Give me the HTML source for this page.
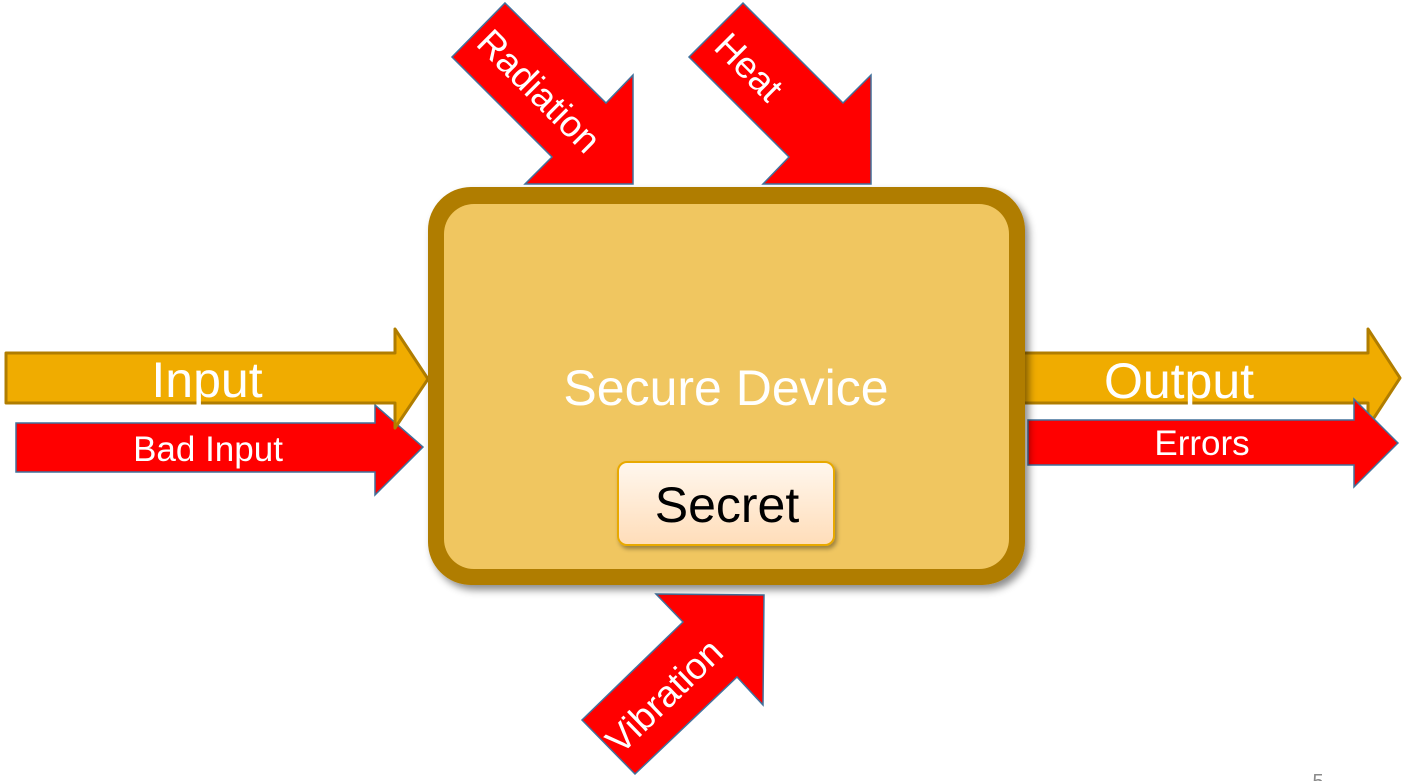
<!DOCTYPE html>
<html>
<head>
<meta charset="utf-8">
<style>
  html,body{margin:0;padding:0;background:#fff;}
  body{width:1406px;height:781px;overflow:hidden;}
  svg{display:block;}
  text{font-family:"Liberation Sans",Arial,sans-serif;}
</style>
</head>
<body>
<svg width="1406" height="781" viewBox="0 0 1406 781" xmlns="http://www.w3.org/2000/svg">
  <defs>
    <filter id="sh" x="-10%" y="-10%" width="125%" height="125%">
      <feDropShadow dx="4" dy="5" stdDeviation="4" flood-color="#000" flood-opacity="0.45"/>
    </filter>
    <filter id="sh2" x="-10%" y="-10%" width="125%" height="130%">
      <feDropShadow dx="2" dy="3" stdDeviation="2" flood-color="#000" flood-opacity="0.35"/>
    </filter>
    <linearGradient id="sg" x1="0" y1="0" x2="0" y2="1">
      <stop offset="0" stop-color="#FFF7EE"/>
      <stop offset="1" stop-color="#FFDDB9"/>
    </linearGradient>
  </defs>

  <!-- Radiation arrow -->
  <polygon points="505,3 606,103 633,75 633,184 525,184 552,157 452,57" fill="#FF0000" stroke="#41719C" stroke-width="1.5" stroke-linejoin="miter"/>
  <text x="0" y="0" font-size="37" fill="#fff" text-anchor="middle" transform="translate(530,100) rotate(45)">Radiation</text>

  <!-- Heat arrow -->
  <polygon points="743,3 843,103 871,75 871,184 763,184 789,157 689,57" fill="#FF0000" stroke="#41719C" stroke-width="1.5"/>
  <text x="0" y="0" font-size="37" fill="#fff" text-anchor="middle" transform="translate(740,76) rotate(45)">Heat</text>

  <!-- Output arrow (behind box) -->
  <polygon points="1000,353 1368,353 1368,329 1400,378 1368,427 1368,403 1000,403" fill="#F0AC00" stroke="#B07D00" stroke-width="3" stroke-linejoin="round"/>
  <text x="1179" y="398" font-size="50" fill="#fff" text-anchor="middle">Output</text>

  <!-- Errors arrow -->
  <polygon points="1028,420 1354,420 1354,399 1398,443 1354,487 1354,465 1028,465" fill="#FF0000" stroke="#41719C" stroke-width="1.5"/>
  <text x="1202" y="455" font-size="35" fill="#fff" text-anchor="middle">Errors</text>

  <!-- Bad Input arrow -->
  <polygon points="16,423 375,423 375,405 423,447 375,495 375,472 16,472" fill="#FF0000" stroke="#41719C" stroke-width="1.5"/>
  <text x="208" y="461" font-size="35" fill="#fff" text-anchor="middle">Bad Input</text>

  <!-- Input arrow -->
  <polygon points="6,353 395,353 395,329 428,379 395,428 395,403 6,403" fill="#F0AC00" stroke="#B07D00" stroke-width="3" stroke-linejoin="round"/>
  <text x="207" y="397" font-size="50" fill="#fff" text-anchor="middle">Input</text>

  <!-- Vibration arrow -->
  <polygon points="635,774 582,720 683,622 656,594 764,595 763,705 737,677" fill="#FF0000" stroke="#41719C" stroke-width="1.5"/>
  <text x="0" y="0" font-size="37" fill="#fff" text-anchor="middle" transform="translate(673,705) rotate(-44)">Vibration</text>

  <!-- Secure Device box -->
  <g filter="url(#sh)">
    <rect x="428" y="187" width="597" height="398" rx="43" ry="43" fill="#B07D00"/>
  </g>
  <rect x="444" y="204" width="565" height="365" rx="30" ry="30" fill="#F0C660"/>
  <text x="726" y="405" font-size="50" fill="#fff" text-anchor="middle">Secure Device</text>

  <!-- Secret -->
  <g filter="url(#sh2)">
    <rect x="618" y="462" width="216" height="83" rx="9" ry="9" fill="url(#sg)" stroke="#E8A900" stroke-width="2"/>
  </g>
  <text x="727" y="522" font-size="50" fill="#000" text-anchor="middle">Secret</text>

  <!-- page number -->
  <text x="1318" y="788" font-size="20" fill="#8A8A8A" text-anchor="middle">5</text>
</svg>
</body>
</html>
